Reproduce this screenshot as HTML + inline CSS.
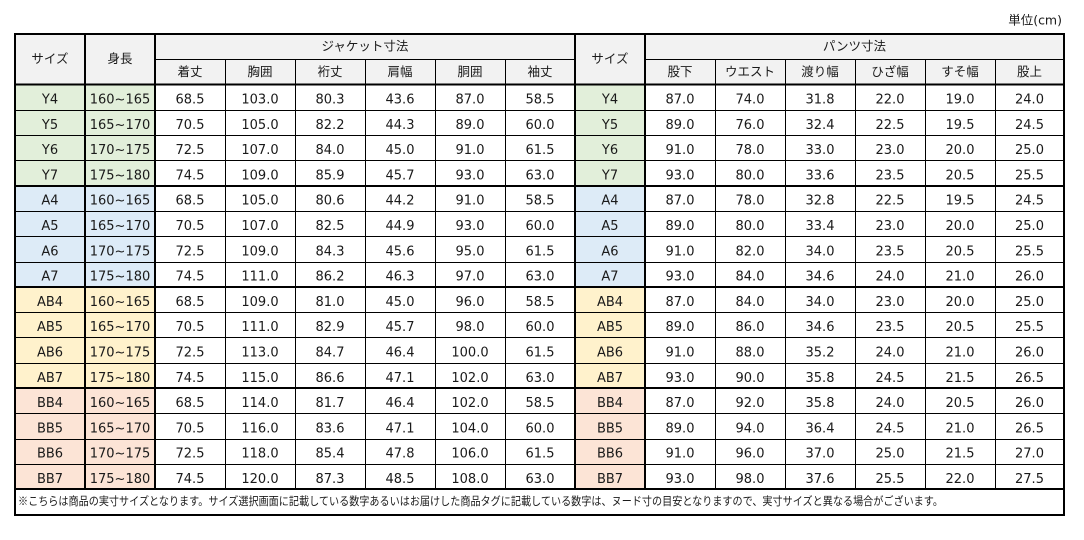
<!DOCTYPE html>
<html><head><meta charset="utf-8"><style>
html,body{margin:0;padding:0;background:#fff;}
svg{display:block;}
text{fill:#1a1a1a;}
.n{font-family:"DejaVu Sans","Liberation Sans",sans-serif;font-size:13px;text-anchor:middle;}
.j{font-family:"Liberation Sans","Noto Sans CJK JP",sans-serif;font-size:12.5px;text-anchor:middle;dominant-baseline:central;}
</style></head><body>
<svg width="1084" height="540" viewBox="0 0 1084 540" xmlns="http://www.w3.org/2000/svg">
<rect x="0" y="0" width="1084" height="540" fill="#fff"/>
<!-- fills -->
<rect x="15" y="34" width="1049" height="50" fill="#f2f2f2"/>
<rect x="15" y="84" width="140" height="102" fill="#e2efda"/>
<rect x="575" y="84" width="70" height="102" fill="#e2efda"/>
<rect x="15" y="186" width="140" height="101" fill="#ddebf7"/>
<rect x="575" y="186" width="70" height="101" fill="#ddebf7"/>
<rect x="15" y="287" width="140" height="101" fill="#fff2cc"/>
<rect x="575" y="287" width="70" height="101" fill="#fff2cc"/>
<rect x="15" y="388" width="140" height="101" fill="#fce4d6"/>
<rect x="575" y="388" width="70" height="101" fill="#fce4d6"/>
<!-- thin lines -->
<g stroke="#000" stroke-width="1">
<path d="M155 59.5H575M645 59.5H1064"/>
<path d="M225.5 59V489M295.5 59V489M365.5 59V489M435.5 59V489M505.5 59V489M715.5 59V489M785.5 59V489M855.5 59V489M925.5 59V489M995.5 59V489"/>
<path d="M15 110.5H1064M15 135.5H1064M15 160.5H1064M15 211.5H1064M15 236.5H1064M15 262.5H1064M15 312.5H1064M15 337.5H1064M15 363.5H1064M15 413.5H1064M15 439.5H1064M15 464.5H1064"/>
</g>
<!-- thick lines -->
<g stroke="#000" stroke-width="2" fill="none">
<rect x="15" y="34" width="1049" height="481"/>
<path d="M85 34V489M155 34V489M575 34V489M645 34V489"/>
<path d="M15 84.5H1064M15 186H1064M15 287H1064M15 388H1064M15 489H1064"/>
</g>
<!-- unit -->
<text x="1062" y="20" font-family="DejaVu Sans, Noto Sans CJK JP, sans-serif" font-size="12.5" text-anchor="end" dominant-baseline="central">単位(cm)</text>
<!-- headers -->
<text class="j" x="50" y="59">サイズ</text>
<text class="j" x="120" y="59">身長</text>
<text class="j" x="365" y="46.5">ジャケット寸法</text>
<text class="j" x="610" y="59">サイズ</text>
<text class="j" x="854.5" y="46.5">パンツ寸法</text>
<text class="j" x="190" y="72">着丈</text>
<text class="j" x="260" y="72">胸囲</text>
<text class="j" x="330" y="72">裄丈</text>
<text class="j" x="400" y="72">肩幅</text>
<text class="j" x="470" y="72">胴囲</text>
<text class="j" x="540" y="72">袖丈</text>
<text class="j" x="680" y="72">股下</text>
<text class="j" x="750" y="72">ウエスト</text>
<text class="j" x="820" y="72">渡り幅</text>
<text class="j" x="890" y="72">ひざ幅</text>
<text class="j" x="960" y="72">すそ幅</text>
<text class="j" x="1029.5" y="72">股上</text>
<!-- data rows -->
<g class="n">
<g transform="translate(0,103.5)"><text x="50">Y4</text><text x="120">160~165</text><text x="190">68.5</text><text x="260">103.0</text><text x="330">80.3</text><text x="400">43.6</text><text x="470">87.0</text><text x="540">58.5</text><text x="610">Y4</text><text x="680">87.0</text><text x="750">74.0</text><text x="820">31.8</text><text x="890">22.0</text><text x="960">19.0</text><text x="1029.5">24.0</text></g>
<g transform="translate(0,128.8)"><text x="50">Y5</text><text x="120">165~170</text><text x="190">70.5</text><text x="260">105.0</text><text x="330">82.2</text><text x="400">44.3</text><text x="470">89.0</text><text x="540">60.0</text><text x="610">Y5</text><text x="680">89.0</text><text x="750">76.0</text><text x="820">32.4</text><text x="890">22.5</text><text x="960">19.5</text><text x="1029.5">24.5</text></g>
<g transform="translate(0,154.1)"><text x="50">Y6</text><text x="120">170~175</text><text x="190">72.5</text><text x="260">107.0</text><text x="330">84.0</text><text x="400">45.0</text><text x="470">91.0</text><text x="540">61.5</text><text x="610">Y6</text><text x="680">91.0</text><text x="750">78.0</text><text x="820">33.0</text><text x="890">23.0</text><text x="960">20.0</text><text x="1029.5">25.0</text></g>
<g transform="translate(0,179.4)"><text x="50">Y7</text><text x="120">175~180</text><text x="190">74.5</text><text x="260">109.0</text><text x="330">85.9</text><text x="400">45.7</text><text x="470">93.0</text><text x="540">63.0</text><text x="610">Y7</text><text x="680">93.0</text><text x="750">80.0</text><text x="820">33.6</text><text x="890">23.5</text><text x="960">20.5</text><text x="1029.5">25.5</text></g>
<g transform="translate(0,204.7)"><text x="50">A4</text><text x="120">160~165</text><text x="190">68.5</text><text x="260">105.0</text><text x="330">80.6</text><text x="400">44.2</text><text x="470">91.0</text><text x="540">58.5</text><text x="610">A4</text><text x="680">87.0</text><text x="750">78.0</text><text x="820">32.8</text><text x="890">22.5</text><text x="960">19.5</text><text x="1029.5">24.5</text></g>
<g transform="translate(0,230)"><text x="50">A5</text><text x="120">165~170</text><text x="190">70.5</text><text x="260">107.0</text><text x="330">82.5</text><text x="400">44.9</text><text x="470">93.0</text><text x="540">60.0</text><text x="610">A5</text><text x="680">89.0</text><text x="750">80.0</text><text x="820">33.4</text><text x="890">23.0</text><text x="960">20.0</text><text x="1029.5">25.0</text></g>
<g transform="translate(0,255.3)"><text x="50">A6</text><text x="120">170~175</text><text x="190">72.5</text><text x="260">109.0</text><text x="330">84.3</text><text x="400">45.6</text><text x="470">95.0</text><text x="540">61.5</text><text x="610">A6</text><text x="680">91.0</text><text x="750">82.0</text><text x="820">34.0</text><text x="890">23.5</text><text x="960">20.5</text><text x="1029.5">25.5</text></g>
<g transform="translate(0,280.6)"><text x="50">A7</text><text x="120">175~180</text><text x="190">74.5</text><text x="260">111.0</text><text x="330">86.2</text><text x="400">46.3</text><text x="470">97.0</text><text x="540">63.0</text><text x="610">A7</text><text x="680">93.0</text><text x="750">84.0</text><text x="820">34.6</text><text x="890">24.0</text><text x="960">21.0</text><text x="1029.5">26.0</text></g>
<g transform="translate(0,305.9)"><text x="50">AB4</text><text x="120">160~165</text><text x="190">68.5</text><text x="260">109.0</text><text x="330">81.0</text><text x="400">45.0</text><text x="470">96.0</text><text x="540">58.5</text><text x="610">AB4</text><text x="680">87.0</text><text x="750">84.0</text><text x="820">34.0</text><text x="890">23.0</text><text x="960">20.0</text><text x="1029.5">25.0</text></g>
<g transform="translate(0,331.2)"><text x="50">AB5</text><text x="120">165~170</text><text x="190">70.5</text><text x="260">111.0</text><text x="330">82.9</text><text x="400">45.7</text><text x="470">98.0</text><text x="540">60.0</text><text x="610">AB5</text><text x="680">89.0</text><text x="750">86.0</text><text x="820">34.6</text><text x="890">23.5</text><text x="960">20.5</text><text x="1029.5">25.5</text></g>
<g transform="translate(0,356.5)"><text x="50">AB6</text><text x="120">170~175</text><text x="190">72.5</text><text x="260">113.0</text><text x="330">84.7</text><text x="400">46.4</text><text x="470">100.0</text><text x="540">61.5</text><text x="610">AB6</text><text x="680">91.0</text><text x="750">88.0</text><text x="820">35.2</text><text x="890">24.0</text><text x="960">21.0</text><text x="1029.5">26.0</text></g>
<g transform="translate(0,381.8)"><text x="50">AB7</text><text x="120">175~180</text><text x="190">74.5</text><text x="260">115.0</text><text x="330">86.6</text><text x="400">47.1</text><text x="470">102.0</text><text x="540">63.0</text><text x="610">AB7</text><text x="680">93.0</text><text x="750">90.0</text><text x="820">35.8</text><text x="890">24.5</text><text x="960">21.5</text><text x="1029.5">26.5</text></g>
<g transform="translate(0,407.1)"><text x="50">BB4</text><text x="120">160~165</text><text x="190">68.5</text><text x="260">114.0</text><text x="330">81.7</text><text x="400">46.4</text><text x="470">102.0</text><text x="540">58.5</text><text x="610">BB4</text><text x="680">87.0</text><text x="750">92.0</text><text x="820">35.8</text><text x="890">24.0</text><text x="960">20.5</text><text x="1029.5">26.0</text></g>
<g transform="translate(0,432.4)"><text x="50">BB5</text><text x="120">165~170</text><text x="190">70.5</text><text x="260">116.0</text><text x="330">83.6</text><text x="400">47.1</text><text x="470">104.0</text><text x="540">60.0</text><text x="610">BB5</text><text x="680">89.0</text><text x="750">94.0</text><text x="820">36.4</text><text x="890">24.5</text><text x="960">21.0</text><text x="1029.5">26.5</text></g>
<g transform="translate(0,457.7)"><text x="50">BB6</text><text x="120">170~175</text><text x="190">72.5</text><text x="260">118.0</text><text x="330">85.4</text><text x="400">47.8</text><text x="470">106.0</text><text x="540">61.5</text><text x="610">BB6</text><text x="680">91.0</text><text x="750">96.0</text><text x="820">37.0</text><text x="890">25.0</text><text x="960">21.5</text><text x="1029.5">27.0</text></g>
<g transform="translate(0,483)"><text x="50">BB7</text><text x="120">175~180</text><text x="190">74.5</text><text x="260">120.0</text><text x="330">87.3</text><text x="400">48.5</text><text x="470">108.0</text><text x="540">63.0</text><text x="610">BB7</text><text x="680">93.0</text><text x="750">98.0</text><text x="820">37.6</text><text x="890">25.5</text><text x="960">22.0</text><text x="1029.5">27.5</text></g>
</g>
<!-- note -->
<text x="18" y="502" font-family="Liberation Sans, Noto Sans CJK JP, sans-serif" font-size="11.5" dominant-baseline="central" textLength="925" lengthAdjust="spacingAndGlyphs" fill="#000">※こちらは商品の実寸サイズとなります。サイズ選択画面に記載している数字あるいはお届けした商品タグに記載している数字は、ヌード寸の目安となりますので、実寸サイズと異なる場合がございます。</text>
</svg>
</body></html>
